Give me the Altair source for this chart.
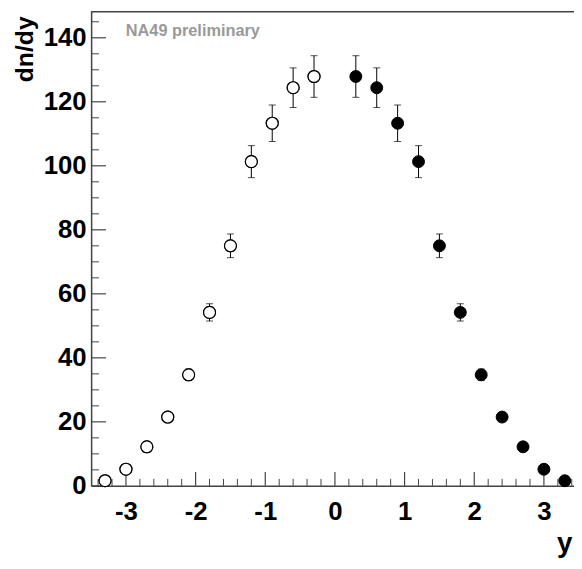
import altair as alt
import pandas as pd

# ---- data ----
rap_open = [-3.3, -3.0, -2.7, -2.4, -2.1, -1.8, -1.5, -1.2, -0.9, -0.6, -0.3]
dndy_open = [1.6, 5.2, 12.2, 21.5, 34.7, 54.2, 75.0, 101.3, 113.3, 124.4, 127.9]
err_open = [0.2, 0.4, 0.8, 1.2, 1.8, 2.7, 3.7, 5.0, 5.7, 6.2, 6.5]

rap_full = [0.3, 0.6, 0.9, 1.2, 1.5, 1.8, 2.1, 2.4, 2.7, 3.0, 3.3]
dndy_full = [127.9, 124.4, 113.3, 101.3, 75.0, 54.2, 34.7, 21.5, 12.2, 5.2, 1.6]
err_full = [6.5, 6.2, 5.7, 5.0, 3.7, 2.7, 1.8, 1.2, 0.8, 0.4, 0.2]

x_major = [-3, -2, -1, 0, 1, 2, 3]
x_minor = [-3.4, -3.2, -2.8, -2.6, -2.4, -2.2, -1.8, -1.6, -1.4, -1.2, -0.8, -0.6,
           -0.4, -0.2, 0.2, 0.4, 0.6, 0.8, 1.2, 1.4, 1.6, 1.8, 2.2, 2.4, 2.6, 2.8,
           3.2, 3.4]
y_major = [0, 20, 40, 60, 80, 100, 120, 140]
y_minor = [5, 10, 15, 25, 30, 35, 45, 50, 55, 65, 70, 75, 85, 90, 95, 105, 110,
           115, 125, 130, 135, 145]

W, H = 488, 480
FONT = "Liberation Sans"
AXC = "#444444"

pts_open = pd.DataFrame({"rap": rap_open, "dndy": dndy_open,
                         "lo": [v - e for v, e in zip(dndy_open, err_open)],
                         "hi": [v + e for v, e in zip(dndy_open, err_open)]})
pts_full = pd.DataFrame({"rap": rap_full, "dndy": dndy_full,
                         "lo": [v - e for v, e in zip(dndy_full, err_full)],
                         "hi": [v + e for v, e in zip(dndy_full, err_full)]})
pts_all = pd.concat([pts_open, pts_full], ignore_index=True)

xsc = alt.Scale(domain=[-3.5, 3.432], nice=False, zero=False)
ysc = alt.Scale(domain=[0, 148.4], nice=False, zero=False)

X = alt.X("rap:Q", scale=xsc, axis=alt.Axis(
    values=x_major, ticks=False, grid=False, domainColor=AXC, domainWidth=1.5,
    labelExpr="datum.value < 0 ? '-' + (-datum.value) : '' + datum.value",
    labelFont=FONT, labelFontSize=26, labelFontWeight="bold", labelColor="black",
    labelPadding=13, labelFlush=False, labelOverlap=False,
    title="y", titleFont=FONT, titleFontSize=28, titleFontWeight="bold",
    titleColor="black", titleAlign="right", titleBaseline="alphabetic",
    titleX=486, titleY=66, titleAnchor="end"))
Y = alt.Y("dndy:Q", scale=ysc, axis=alt.Axis(
    values=y_major, ticks=False, grid=False, domainColor=AXC, domainWidth=1.5,
    labelFont=FONT, labelFontSize=26, labelFontWeight="bold", labelColor="black",
    labelPadding=5, labelOverlap=False, labelFlush=False,
    title="dn/dy", titleFont=FONT, titleFontSize=25, titleFontWeight="bold",
    titleColor="black", titleAngle=270, titleAlign="right",
    titleBaseline="alphabetic", titleX=-59, titleY=5))

errbars = alt.Chart(pts_all).mark_rule(color="black", strokeWidth=1).encode(
    x=alt.X("rap:Q", scale=xsc), y=alt.Y("lo:Q", scale=ysc), y2="hi:Q")
caps_hi = alt.Chart(pts_all).mark_tick(orient="horizontal", size=7, thickness=1,
                                       color="black").encode(
    x=alt.X("rap:Q", scale=xsc), y=alt.Y("hi:Q", scale=ysc))
caps_lo = alt.Chart(pts_all).mark_tick(orient="horizontal", size=7, thickness=1,
                                       color="black").encode(
    x=alt.X("rap:Q", scale=xsc), y=alt.Y("lo:Q", scale=ysc))

open_c = alt.Chart(pts_open).mark_point(shape="circle", size=145, filled=True,
                                        fill="white", stroke="black",
                                        strokeWidth=1.2, opacity=1).encode(x=X, y=Y)
full_c = alt.Chart(pts_full).mark_point(shape="circle", size=145, filled=True,
                                        fill="black", stroke="black",
                                        strokeWidth=1, opacity=1).encode(x=X, y=Y)

xmaj = alt.Chart(pd.DataFrame({"rap": x_major})).mark_rule(color=AXC, strokeWidth=1.2).encode(
    x=alt.X("rap:Q", scale=xsc), y=alt.value(H), y2=alt.value(H - 14))
xmin = alt.Chart(pd.DataFrame({"rap": x_minor})).mark_rule(color=AXC, strokeWidth=1).encode(
    x=alt.X("rap:Q", scale=xsc), y=alt.value(H), y2=alt.value(H - 7))
ymaj = alt.Chart(pd.DataFrame({"dndy": y_major})).mark_rule(color=AXC, strokeWidth=1.2).encode(
    y=alt.Y("dndy:Q", scale=ysc), x=alt.value(0), x2=alt.value(15))
ymin = alt.Chart(pd.DataFrame({"dndy": y_minor})).mark_rule(color=AXC, strokeWidth=1).encode(
    y=alt.Y("dndy:Q", scale=ysc), x=alt.value(0), x2=alt.value(8))

frame_top = alt.Chart(pd.DataFrame({"a": [0]})).mark_rule(color=AXC, strokeWidth=1.5).encode(
    x=alt.value(0), x2=alt.value(W), y=alt.value(0.75))

label = alt.Chart(pd.DataFrame({"t": ["NA49 preliminary"]})).mark_text(
    align="left", baseline="alphabetic", font=FONT, fontSize=16.5, fontWeight="bold",
    color="#999999").encode(x=alt.value(35), y=alt.value(25), text="t:N")

chart = alt.layer(
    open_c, xmaj, xmin, ymaj, ymin, frame_top, label,
    errbars, caps_hi, caps_lo, open_c, full_c
).properties(
    width=W, height=H,
    autosize=alt.AutoSizeParams(type="none"),
    padding={"left": 84, "top": 0, "right": 0, "bottom": 72},
).configure_view(stroke=None).configure(background="white")

chart.save("out.html", embed_options={"renderer": "svg", "actions": False})
